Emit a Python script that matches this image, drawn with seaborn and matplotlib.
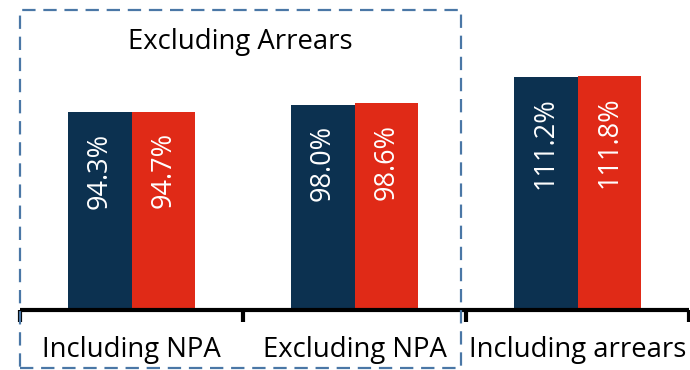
import matplotlib
matplotlib.use("Agg")
import matplotlib.pyplot as plt
import seaborn as sns
import pandas as pd
from matplotlib.patches import Rectangle

categories = ["Including NPA", "Excluding NPA", "Including arrears"]
series_names = ["Series 1", "Series 2"]
series_1 = [94.3, 98.0, 111.2]
series_2 = [94.7, 98.6, 111.8]
box_title = "Excluding Arrears"

colors = ["#0c3150", "#e02a17"]

df = pd.DataFrame({
    "category": categories * 2,
    "series": [series_names[0]] * 3 + [series_names[1]] * 3,
    "value": series_1 + series_2,
})

sns.set_theme(style="white")
plt.rcParams["font.family"] = ["Open Sans", "DejaVu Sans"]

fig = plt.figure(figsize=(6.9, 3.7), dpi=100)
ax = fig.add_axes([20 / 690, 60 / 370, 669 / 690, 310 / 370])

sns.barplot(data=df, x="category", y="value", hue="series", order=categories,
            hue_order=series_names, palette=colors, width=0.57, saturation=1,
            legend=False, ax=ax, edgecolor="none")

for container, vals in zip(ax.containers, [series_1, series_2]):
    for bar, v in zip(container, vals):
        ax.annotate(f"{v:.1f}%", (bar.get_x() + bar.get_width() / 2, bar.get_height()),
                    xytext=(0, -14.5), textcoords="offset points", rotation=90,
                    ha="center", va="top", color="white", fontsize=19.5)

ax.set_ylim(0, 148)
ax.set_xlim(-0.5, len(categories) - 0.5)
ax.set_xlabel("")
ax.set_ylabel("")
ax.set_yticks([])
for s in ["left", "right", "top"]:
    ax.spines[s].set_visible(False)
ax.spines["bottom"].set_linewidth(3)
ax.spines["bottom"].set_color("black")
ax.spines["bottom"].set_capstyle("butt")

ax.set_xticks(range(len(categories)))
ax.set_xticklabels(categories, fontsize=19.8, color="black")
ax.set_xticks([i - 0.5 for i in range(len(categories) + 1)], minor=True)
ax.tick_params(axis="x", which="major", length=0, pad=19, bottom=True)
ax.tick_params(axis="x", which="minor", length=8.5, width=3, color="black",
               direction="out", bottom=True)

# dashed box around the first two groups
rect = Rectangle((20 / 690, 2 / 370), (461 - 20) / 690, (360 - 2) / 370,
                 transform=fig.transFigure, fill=False, edgecolor="#4a77a6",
                 linewidth=1.6, linestyle=(0, (6, 3.5)))
fig.patches.append(rect)
fig.text(240 / 690, 1 - 42 / 370, box_title, ha="center", va="center",
         fontsize=19.8, color="black")

fig.savefig("out.png", dpi=100)
